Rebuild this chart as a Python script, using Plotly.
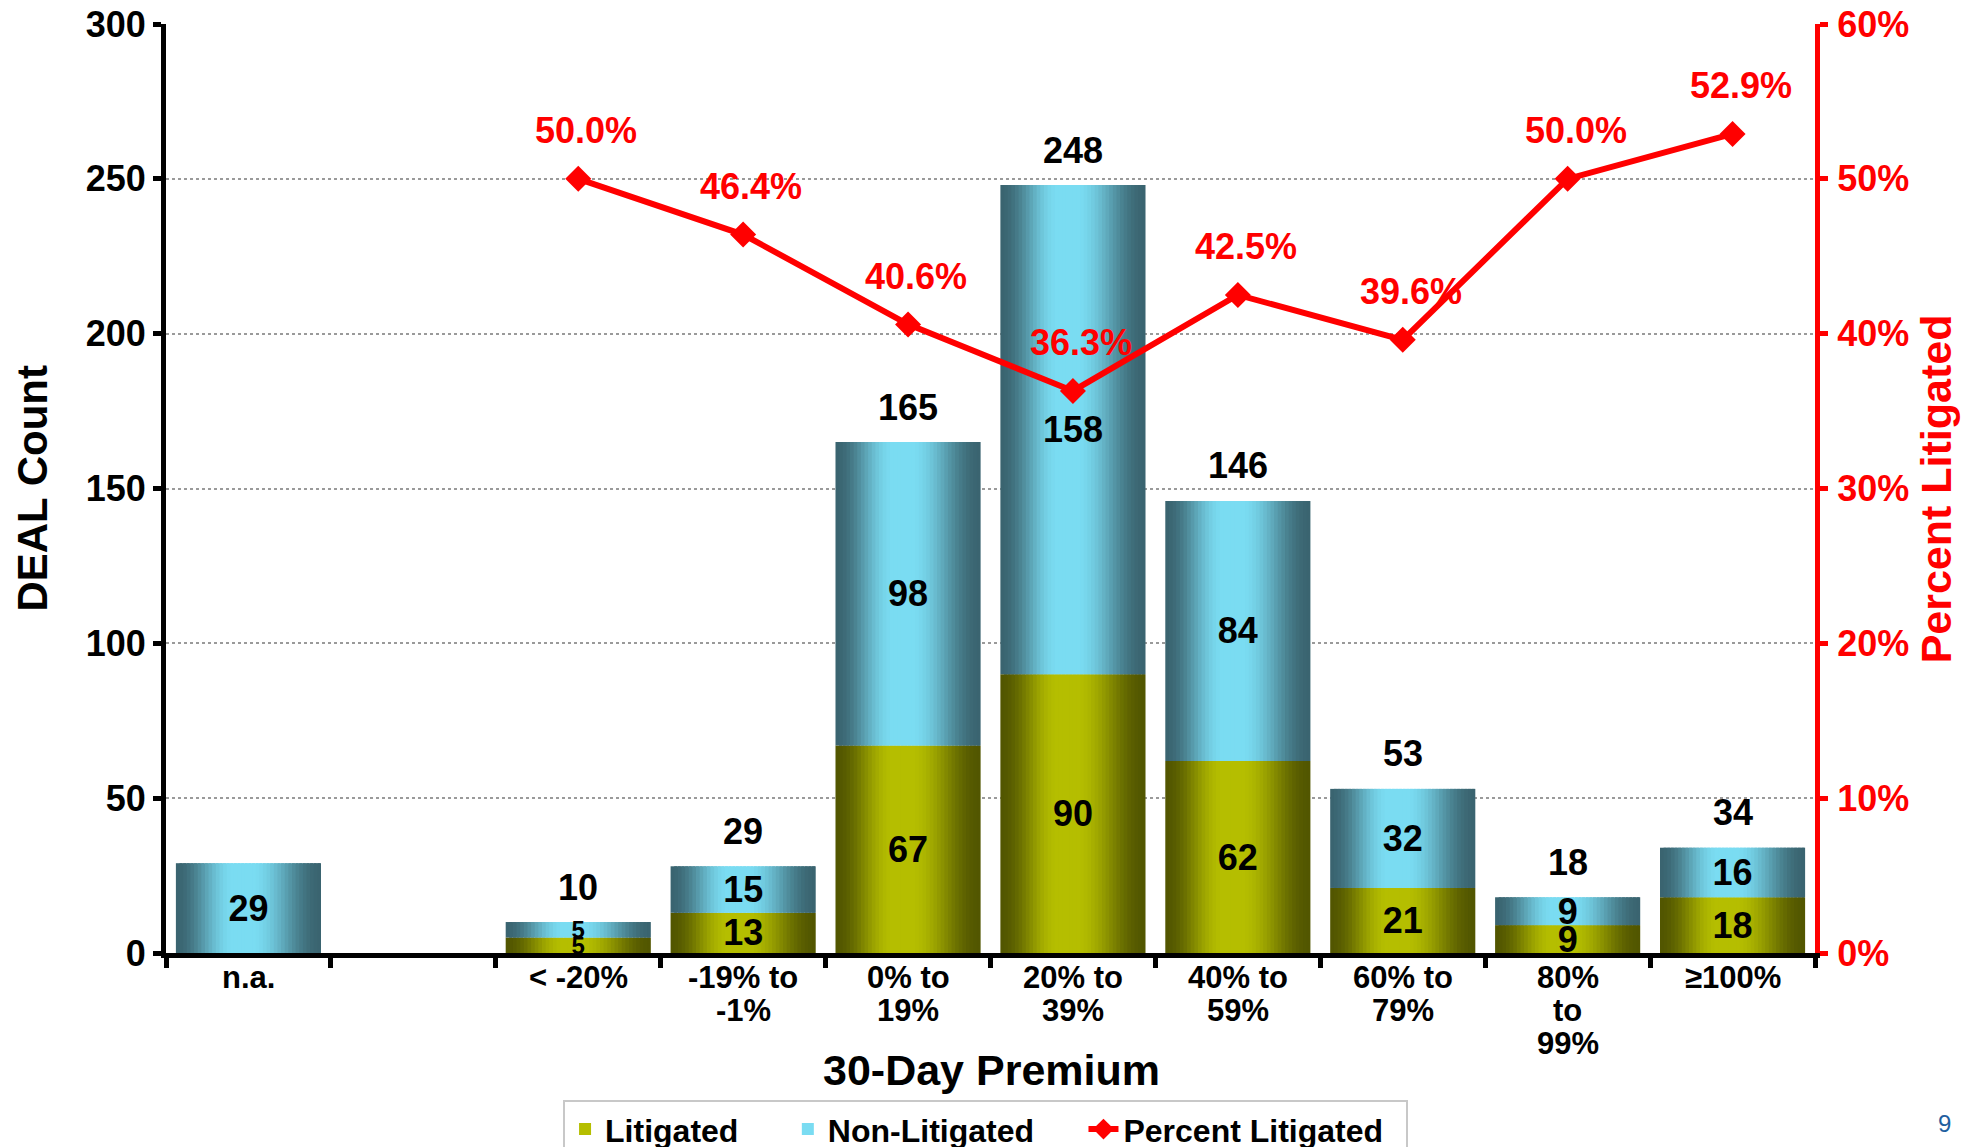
import math
import plotly.graph_objects as go

# ---------------- data ----------------
categories = ["n.a.", "blank", "< -20%", "-19% to -1%", "0% to 19%", "20% to 39%",
              "40% to 59%", "60% to 79%", "80% to 99%", ">=100%"]
tick_lines = [["n.a."], [], ["< -20%"], ["-19% to", "-1%"], ["0% to", "19%"], ["20% to", "39%"],
              ["40% to", "59%"], ["60% to", "79%"], ["80%", "to", "99%"], ["≥100%"]]
litigated = [None, None, 5, 13, 67, 90, 62, 21, 9, 18]
non_litigated = [29, None, 5, 15, 98, 158, 84, 32, 9, 16]
totals = [None, None, 10, 29, 165, 248, 146, 53, 18, 34]
pct_litigated = [None, None, 50.0, 46.4, 40.6, 36.3, 42.5, 39.6, 50.0, 52.9]
count_ticks = [0, 50, 100, 150, 200, 250, 300]
pct_ticks = [0, 10, 20, 30, 40, 50, 60]

# ---------------- style ----------------
FONT = "Liberation Sans, Arial, sans-serif"
OLIVE_DARK, OLIVE_BRIGHT = (82, 86, 0), (181, 190, 0)
CYAN_DARK, CYAN_BRIGHT = (58, 100, 112), (122, 220, 242)
RED = "#ff0000"
BAR_W = 0.88
N_STRIPS = 40
NB = "\u00a0"


def shade(t):
    peak_lo, peak_hi = 0.40, 0.52
    if t < peak_lo:
        return 0.5 * (1 - math.cos(math.pi * t / peak_lo))
    if t > peak_hi:
        return 0.5 * (1 + math.cos(math.pi * (t - peak_hi) / (1 - peak_hi)))
    return 1.0


def mix(c0, c1, f):
    return "rgb(%d,%d,%d)" % tuple(round(a + (b - a) * f) for a, b in zip(c0, c1))


lit_base = [0] * len(categories)
non_base = [v if v is not None else 0 for v in litigated]

fig = go.Figure()

series = [
    ("Litigated", "Litigated" + NB * 5, litigated, lit_base, OLIVE_DARK, OLIVE_BRIGHT),
    ("Non-Litigated", "Non-Litigated" + NB * 5, non_litigated, non_base, CYAN_DARK, CYAN_BRIGHT),
]
sw = BAR_W / N_STRIPS
for key, label, vals, base, c0, c1 in series:
    for i in range(N_STRIPS):
        t = (i + 0.5) / N_STRIPS
        w = sw if i == N_STRIPS - 1 else sw * 1.8
        fig.add_trace(go.Bar(
            x=categories, y=vals, base=base,
            offset=-BAR_W / 2 + i * sw, width=w,
            marker=dict(color=mix(c0, c1, shade(t)), line=dict(width=0)),
            name=label, legendgroup=key,
            showlegend=(i == N_STRIPS // 2 - 4),
            hoverinfo="skip",
        ))

# transparent bars carrying the inside labels
for key, label, vals, base, c0, c1 in series:
    fig.add_trace(go.Bar(
        x=categories, y=vals, base=base, offset=-BAR_W / 2, width=BAR_W,
        marker=dict(color="rgba(0,0,0,0)", line=dict(width=0)),
        text=["" if v is None else str(v) for v in vals],
        textposition="inside", insidetextanchor="middle", constraintext="none",
        textangle=0,
        insidetextfont=dict(family=FONT, color="black", weight="bold",
                            size=[24 if (v is not None and v <= 5) else 36 for v in vals]),
        showlegend=False, hoverinfo="skip", legendgroup=key,
    ))

fig.add_trace(go.Scatter(
    x=categories, y=pct_litigated, yaxis="y2", name="Percent Litigated" + NB * 2,
    mode="lines+markers",
    line=dict(color=RED, width=6),
    marker=dict(symbol="diamond", size=20, color=RED),
    connectgaps=False,
))

annotations = []
# x category labels (one text per line to match the tight line spacing)
for c, lines in zip(categories, tick_lines):
    for j, ln in enumerate(lines):
        annotations.append(dict(x=c, y=0, xref="x", yref="paper", text=ln, showarrow=False,
                                yanchor="middle", xanchor="center", yshift=-(24 + 33 * j),
                                font=dict(family=FONT, size=31, color="black", weight="bold")))
# totals above bars
for c, lv, nv, tot in zip(categories, litigated, non_litigated, totals):
    if tot is None:
        continue
    top = (lv or 0) + (nv or 0)
    annotations.append(dict(x=c, y=top, xref="x", yref="y", text=str(tot), showarrow=False,
                            yshift=35, font=dict(family=FONT, size=36, color="black", weight="bold")))
# percent labels
for c, p in zip(categories, pct_litigated):
    if p is None:
        continue
    annotations.append(dict(x=c, y=p, xref="x", yref="y2", text=f"{p:.1f}%", showarrow=False,
                            yshift=48, xshift=8,
                            font=dict(family=FONT, size=36, color=RED, weight="bold")))
# axis titles
annotations += [
    dict(x=-0.0812, y=0.5, xref="paper", yref="paper", text="DEAL Count", textangle=-90,
         showarrow=False, xanchor="center", yanchor="middle",
         font=dict(family=FONT, size=42, color="black", weight="bold")),
    dict(x=1.0733, y=0.5, xref="paper", yref="paper", text="Percent Litigated", textangle=-90,
         showarrow=False, xanchor="center", yanchor="middle",
         font=dict(family=FONT, size=43, color=RED, weight="bold")),
    dict(x=0.5006, y=-0.126, xref="paper", yref="paper", text="30-Day Premium",
         showarrow=False, xanchor="center", yanchor="middle",
         font=dict(family=FONT, size=43, color="black", weight="bold")),
    dict(x=1.0788, y=-0.184, xref="paper", yref="paper", text="9", showarrow=False,
         xanchor="center", yanchor="middle", font=dict(family=FONT, size=24, color="#1f5f9f")),
]

fig.update_layout(
    width=1974, height=1147,
    margin=dict(l=166, r=159, t=24, b=194, autoexpand=False),
    plot_bgcolor="white", paper_bgcolor="white",
    barmode="overlay",
    font=dict(family=FONT, color="black"),
    showlegend=True,
    legend=dict(orientation="h", x=0.497, xanchor="center", y=-0.158, yanchor="top",
                font=dict(family=FONT, size=32, color="black", weight="bold"),
                bordercolor="#c8c8c8", borderwidth=2, bgcolor="white",
                traceorder="normal", itemwidth=30),
    xaxis=dict(
        type="category", categoryorder="array", categoryarray=categories,
        tickmode="array", tickvals=categories, showticklabels=False,
        tickson="boundaries", ticks="outside", ticklen=10, tickwidth=5, tickcolor="black",
        showline=True, linecolor="black", linewidth=5,
        showgrid=False,
        range=[-0.5, len(categories) - 0.5],
    ),
    yaxis=dict(
        range=[0, 300], tickmode="array", tickvals=count_ticks,
        ticktext=[str(v) for v in count_ticks],
        ticks="outside", ticklen=8, tickwidth=5, tickcolor="black",
        showline=True, linecolor="black", linewidth=5,
        showgrid=True, gridcolor="#9a9a9a", gridwidth=1.5, griddash="dot",
        zeroline=False,
        tickfont=dict(family=FONT, size=36, color="black", weight="bold"),
        ticklabelstandoff=0,
    ),
    yaxis2=dict(
        range=[0, 60], overlaying="y", side="right", tickmode="array",
        tickvals=pct_ticks, ticktext=[f"{v}%" for v in pct_ticks],
        ticks="outside", ticklen=8, tickwidth=5, tickcolor=RED,
        showline=True, linecolor=RED, linewidth=5,
        showgrid=False, zeroline=False,
        tickfont=dict(family=FONT, size=36, color=RED, weight="bold"),
        ticklabelstandoff=2,
    ),
    annotations=annotations,
)

fig.write_html("out.html")
